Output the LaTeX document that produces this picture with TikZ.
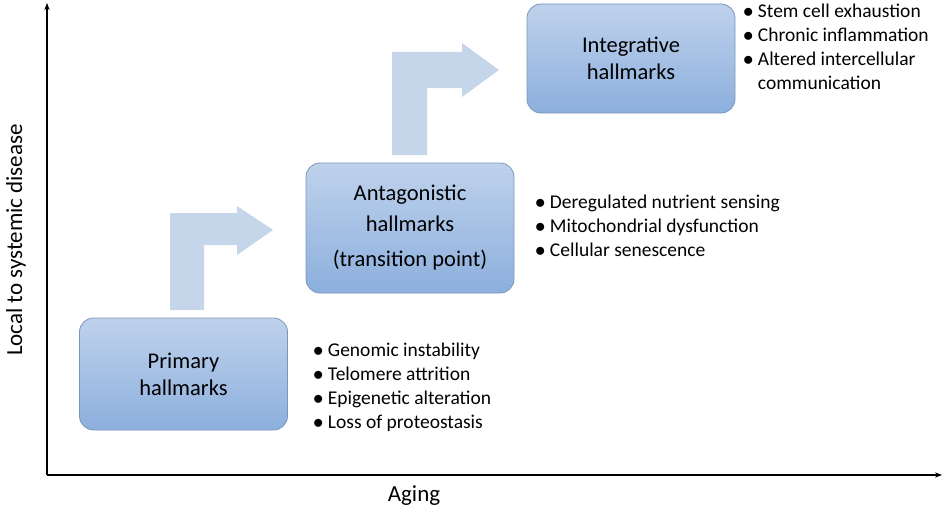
\documentclass[tikz,border=0pt]{standalone}
\usepackage{fontspec}
\setmainfont{Carlito}
\usetikzlibrary{arrows.meta}
\definecolor{arr}{HTML}{C5D5EA}
\definecolor{btop}{HTML}{BFD2EC}
\definecolor{bbot}{HTML}{8CAFDD}
\definecolor{bdr}{HTML}{7C96BA}
\begin{document}
\begin{tikzpicture}[x=1pt,y=-1pt,
  hbox/.style={draw=bdr,line width=0.8pt,rounded corners=14pt,top color=btop,bottom color=bbot,minimum width=208pt,align=center,font=\fontsize{22.5}{27}\selectfont,inner sep=0pt},
  blist/.style={align=left,anchor=north west,font=\fontsize{19.5}{24}\selectfont,inner sep=0pt}]
\useasboundingbox (0,0) rectangle (944,511);
% axes
\coordinate (o) at (47,475);
\coordinate (ytop) at (47,3);
\coordinate (xend) at (942,475);
\draw[line width=1.3pt,-{Stealth[length=7pt]}] (o) -- (ytop);
\draw[line width=1.3pt,-{Stealth[length=7pt]}] (o) -- (xend);
\node[rotate=90,font=\fontsize{23}{27}\selectfont] (yl) at (16,240) {Local to systemic disease};
\node[font=\fontsize{23}{27}\selectfont] (xl) at (414,496) {Aging};
% bent arrows
\fill[arr] (170,310) -- (170,213) -- (237,213) -- (237,206) -- (273,230) -- (237,255) -- (237,245) -- (204,245) -- (204,310) -- cycle;
\fill[arr] (392,155) -- (392,52) -- (462,52) -- (462,43) -- (499,70) -- (462,97) -- (462,88) -- (427,88) -- (427,155) -- cycle;
% boxes
\node[hbox,minimum height=112pt] (p) at (183.5,374) {Primary\\hallmarks};
\node[hbox,minimum height=130pt,font=\fontsize{22.5}{31}\selectfont] (a) at (410,228) {Antagonistic\\hallmarks\\[4pt](transition point)};
\node[hbox,minimum height=109pt] (i) at (631,58.5) {Integrative\\hallmarks};
% lists
\node[blist] (pl) at (313,343) {$\bullet$ Genomic instability\\$\bullet$ Telomere attrition\\$\bullet$ Epigenetic alteration\\$\bullet$ Loss of proteostasis};
\node[blist] (al) at (535,195) {$\bullet$ Deregulated nutrient sensing\\$\bullet$ Mitochondrial dysfunction\\$\bullet$ Cellular senescence};
\node[blist] (il) at (743,4) {$\bullet$ Stem cell exhaustion\\$\bullet$ Chronic inflammation\\$\bullet$ Altered intercellular\\\phantom{$\bullet$ }communication};
\end{tikzpicture}
\end{document}
